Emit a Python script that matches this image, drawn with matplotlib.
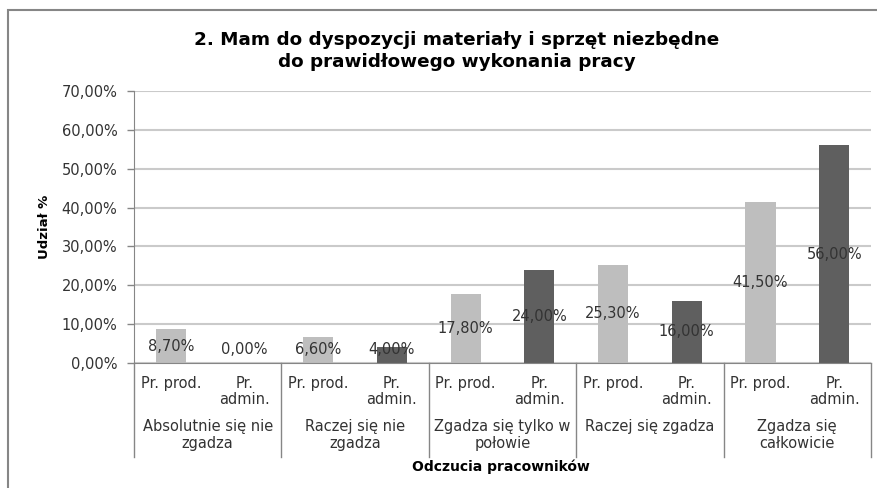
import matplotlib
matplotlib.use("Agg")
import matplotlib.pyplot as plt
from matplotlib.patches import Rectangle
import matplotlib.transforms as mtransforms

groups = ["Absolutnie się nie\nzgadza", "Raczej się nie\nzgadza", "Zgadza się tylko w\npołowie",
          "Raczej się zgadza", "Zgadza się\ncałkowicie"]
sub_labels = ["Pr. prod.", "Pr.\nadmin."]
prod = [8.70, 6.60, 17.80, 25.30, 41.50]
admin = [0.00, 4.00, 24.00, 16.00, 56.00]

light = "#BEBEBE"
dark = "#5F5F5F"
axis_col = "#868686"
grid_col = "#CACACA"
txt_col = "#333333"

def pct(v):
    return f"{v:.2f}%".replace(".", ",")

plt.rcParams["font.family"] = ["DejaVu Sans"]

fig = plt.figure(figsize=(8.78, 4.88), dpi=100)
W, H = 878, 488
ax = fig.add_axes([134 / W, 1 - 363 / H, (871 - 134) / W, (363 - 91) / H])

# outer chart frame
fig.patches.append(Rectangle((8 / W, -0.1), 2, 1 - 10 / H + 0.1, transform=fig.transFigure,
                             fill=False, edgecolor=axis_col, linewidth=1.5))

bar_w = 0.41
for i in range(len(groups)):
    xs = [2 * i + 0.5, 2 * i + 1.5]
    vals = [prod[i], admin[i]]
    cols = [light, dark]
    for x, v, c in zip(xs, vals, cols):
        ax.bar(x, v, width=bar_w, color=c, zorder=2)
        ax.text(x, max(v / 2, 3.6), pct(v), ha="center", va="center", fontsize=10.5,
                color=txt_col, zorder=3)

ax.set_xlim(0, 10)
ax.set_ylim(0, 70)
ax.set_yticks(range(0, 71, 10))
ax.set_yticklabels([pct(v) for v in range(0, 71, 10)], fontsize=10.5, color=txt_col)
ax.tick_params(axis="y", length=5, color=axis_col, width=1, pad=7)
ax.set_xticks([])
ax.yaxis.grid(True, color=grid_col, linewidth=1.5, zorder=0)
ax.set_axisbelow(True)
for s in ["top", "right"]:
    ax.spines[s].set_visible(False)
ax.spines["left"].set_color(axis_col)
ax.spines["bottom"].set_color(axis_col)

# multi-level category axis
trans = mtransforms.blended_transform_factory(ax.transData, ax.transAxes)
sep_bottom = (363 - 457) / 272
for k in range(0, 11, 2):
    ax.plot([k, k], [0, sep_bottom], transform=trans, color=axis_col, linewidth=1, clip_on=False)
for i, g in enumerate(groups):
    for j, s in enumerate(sub_labels):
        ax.text(2 * i + j + 0.5, (363 - 376) / 272, s, transform=trans, ha="center", va="top",
                fontsize=10.5, color=txt_col, linespacing=1.1)
    ax.text(2 * i + 1, (363 - 419) / 272, g, transform=trans, ha="center", va="top",
            fontsize=10.5, color=txt_col, linespacing=1.15)

fig.text(501 / W, 1 - 467 / H, "Odczucia pracowników", ha="center", va="center",
         fontsize=10, fontweight="bold", color="black")
fig.text(45 / W, 1 - 227 / H, "Udział %", ha="center", va="center", rotation=90,
         fontsize=9.5, fontweight="bold", color="black")
fig.text(457 / W, 1 - 51 / H, "2. Mam do dyspozycji materiały i sprzęt niezbędne\ndo prawidłowego wykonania pracy",
         ha="center", va="center", fontsize=13.2, fontweight="bold", color="black", linespacing=1.3)

fig.savefig("out.png", dpi=100)
